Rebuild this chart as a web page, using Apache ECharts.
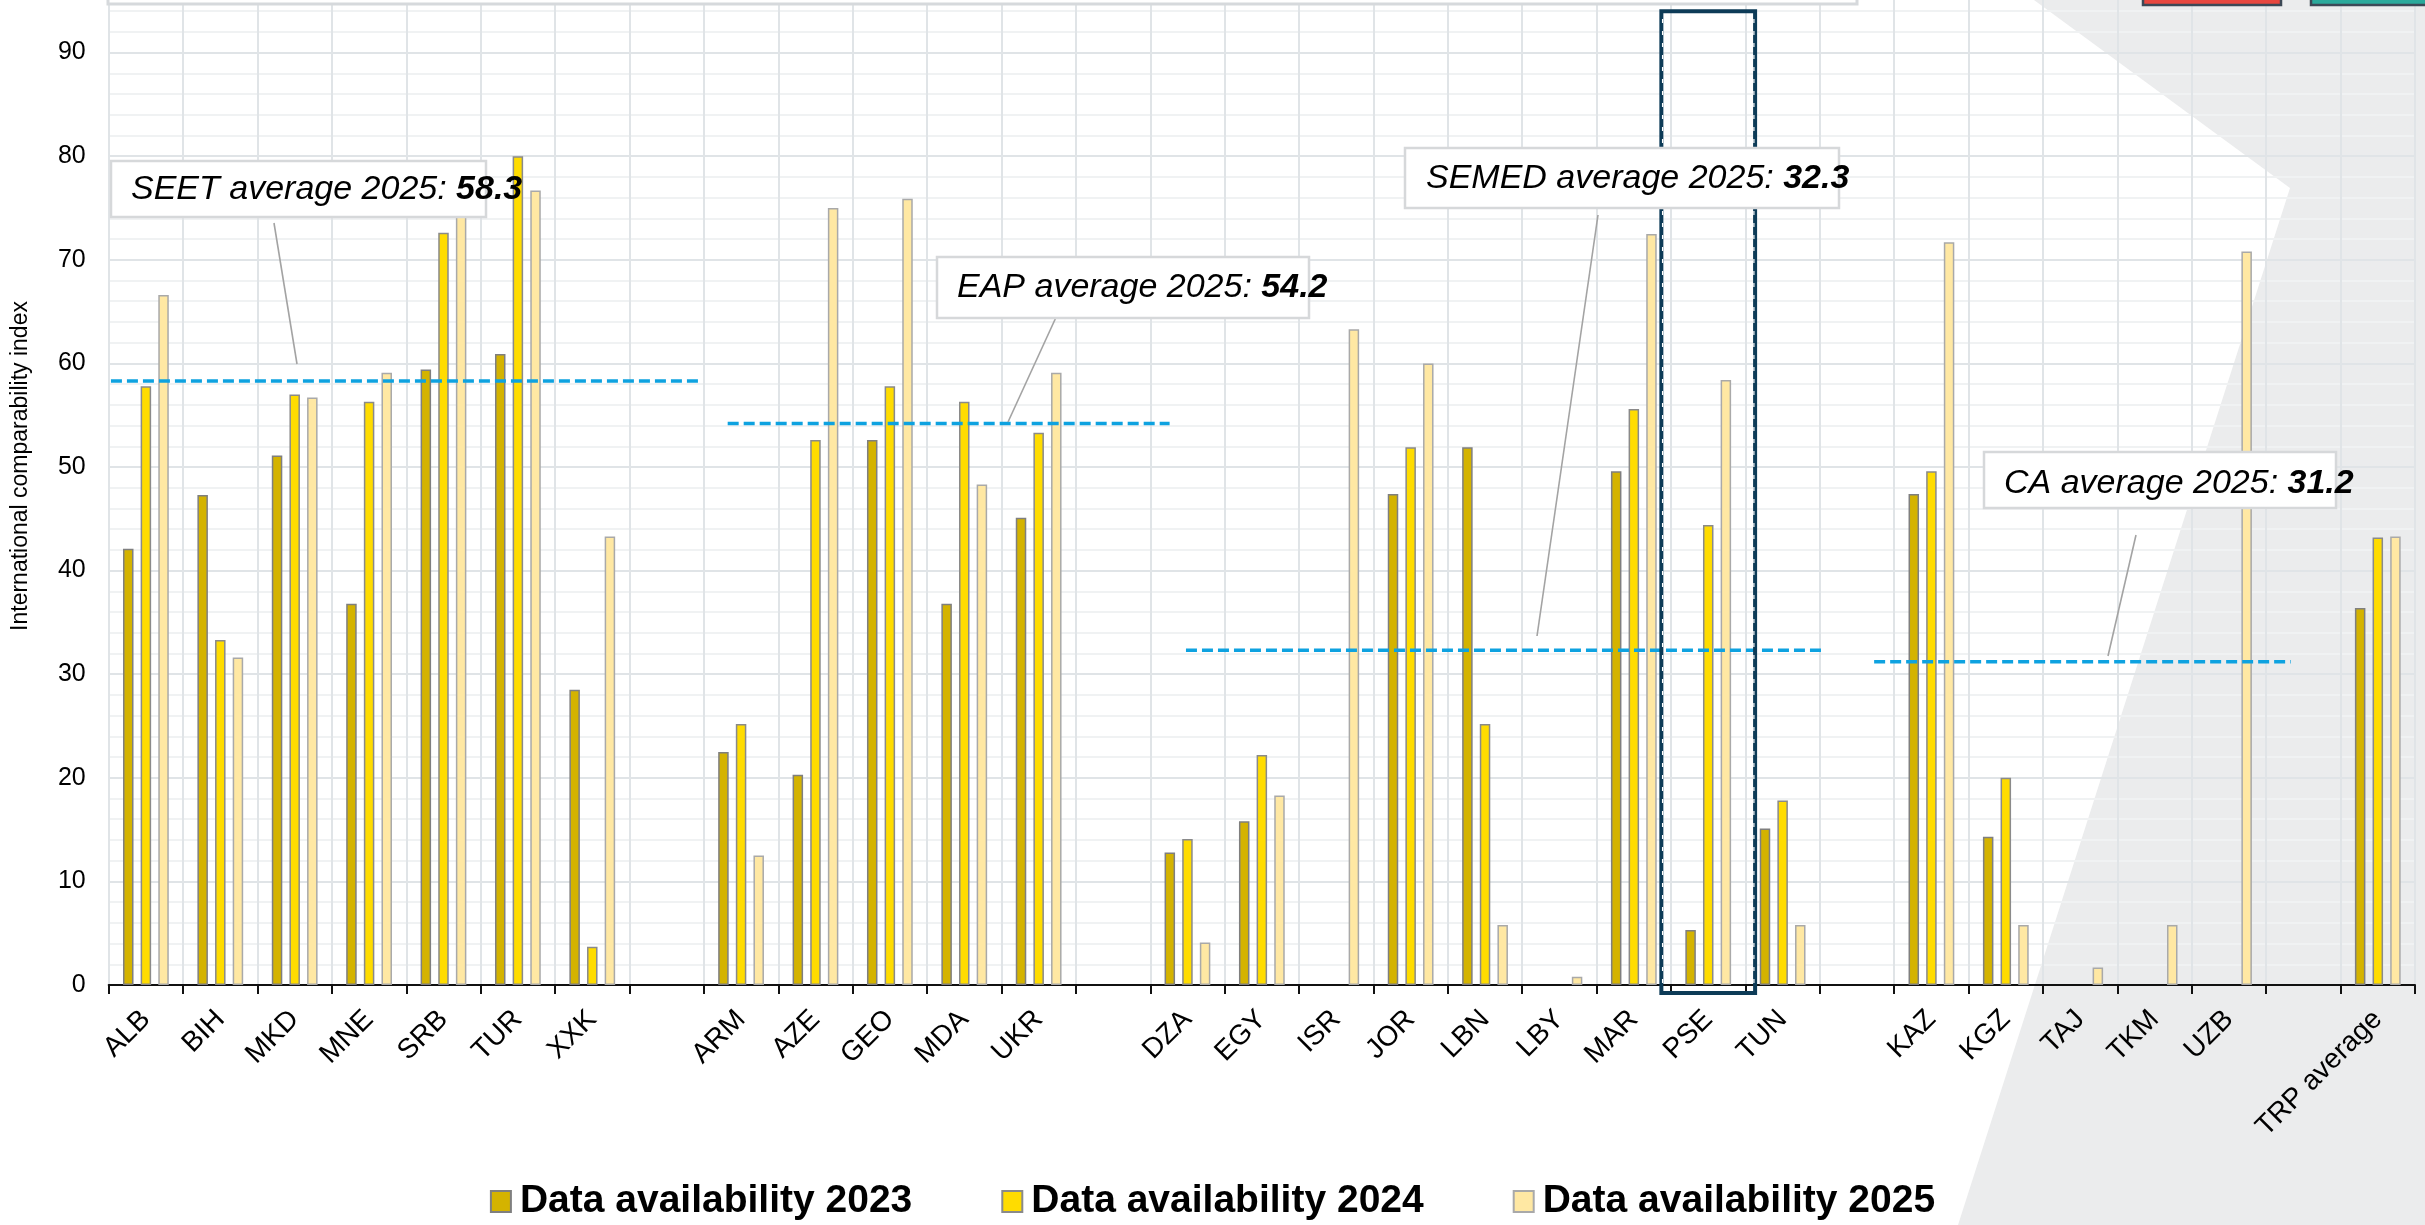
<!DOCTYPE html>
<html>
<head>
<meta charset="utf-8">
<script src="https://cdn.jsdelivr.net/npm/echarts@6/dist/echarts.min.js"></script>
<style>
  html, body { margin: 0; padding: 0; background: #ffffff; }
  #chart { width: 2425px; height: 1225px; }
</style>
</head>
<body>
<div id="chart"></div>
<script>
// Economies grouped by region; blank entries separate the regional groups.
const categories = [
  'ALB', 'BIH', 'MKD', 'MNE', 'SRB', 'TUR', 'XXK', ' ',
  'ARM', 'AZE', 'GEO', 'MDA', 'UKR', '  ',
  'DZA', 'EGY', 'ISR', 'JOR', 'LBN', 'LBY', 'MAR', 'PSE', 'TUN', '   ',
  'KAZ', 'KGZ', 'TAJ', 'TKM', 'UZB', '    ',
  'TRP average'
];

// International comparability index by data-availability year (null = no data).
const avail2023 = [
  42.1, 47.3, 51.1, 36.8, 59.4, 60.9, 28.5, null,
  22.5, 20.3, 52.6, 36.8, 45.1, null,
  12.8, 15.8, null, 47.4, 51.9, null, 49.6, 5.3, 15.1, null,
  47.4, 14.3, null, null, null, null,
  36.4
];
const avail2024 = [
  57.8, 33.3, 57.0, 56.3, 72.6, 80.0, 3.7, null,
  25.2, 52.6, 57.8, 56.3, 53.3, null,
  14.1, 22.2, null, 51.9, 25.2, null, 55.6, 44.4, 17.8, null,
  49.6, 20.0, null, null, null, null,
  43.2
];
const avail2025 = [
  66.6, 31.6, 56.7, 59.1, 74.5, 76.7, 43.3, null,
  12.5, 75.0, 75.9, 48.3, 59.1, null,
  4.1, 18.3, 63.3, 60.0, 5.8, 0.8, 72.5, 58.4, 5.8, null,
  71.7, 5.8, 1.7, 5.8, 70.8, null,
  43.3
];

const seriesNames = ['Data availability 2023', 'Data availability 2024', 'Data availability 2025'];

// Regional 2025 averages
const regionNames = ['SEET', 'EAP', 'SEMED', 'CA'];
const regionAverages2025 = [58.3, 54.2, 32.3, 31.2];

const yTicks = [0, 10, 20, 30, 40, 50, 60, 70, 80, 90];
const highlighted = 'PSE';

// ---- layout & styling ----
const FONT = '"Liberation Sans", Arial, Helvetica, sans-serif';
const BAR_STYLES = [
  { color: '#d4b300', borderColor: '#7f7f7f' },
  { color: '#ffdc00', borderColor: '#8a8a8a' },
  { color: '#ffe8a3', borderColor: '#a9a9a9' }
];
// Horizontal extent of each regional average line, in category units.
const regionSpans = [[0.03, 7.93], [8.32, 14.26], [14.48, 23.06], [23.73, 29.33]];
// Callout boxes (pixels): box rect, text anchor, leader line.
const callouts = [
  { box: [111, 161, 375, 56],  text: [131, 190],  lead: [[274, 223], [297, 364]] },
  { box: [937, 257, 372, 61],  text: [957, 288],  lead: [[1058, 313], [1008, 422]] },
  { box: [1405, 148, 434, 60], text: [1426, 179], lead: [[1598, 215], [1537, 636]] },
  { box: [1984, 452, 352, 56], text: [2004, 484], lead: [[2136, 535], [2108, 656]] }
];

const chart = echarts.init(document.getElementById('chart'), null, { renderer: 'canvas', width: 2425, height: 1225 });

const barSeries = [avail2023, avail2024, avail2025].map((vals, i) => ({
  name: seriesNames[i],
  type: 'bar',
  xAxisIndex: 0,
  yAxisIndex: 0,
  data: vals,
  barWidth: 10.5,
  barGap: '68%',
  itemStyle: { color: BAR_STYLES[i].color, borderColor: BAR_STYLES[i].borderColor, borderWidth: 1.5 },
  emphasis: { disabled: true },
  z: 2
}));

const avgSeries = regionAverages2025.map((v, i) => ({
  name: regionNames[i] + ' average',
  type: 'line',
  xAxisIndex: 1,
  yAxisIndex: 0,
  data: [[regionSpans[i][0], v], [regionSpans[i][1], v]],
  symbol: 'none',
  silent: true,
  lineStyle: { color: '#0ea2e0', width: 3.5, type: [11, 5] },
  z: 5
}));

const calloutGraphics = [];
callouts.forEach((c, i) => {
  calloutGraphics.push({
    id: 'lead' + i, type: 'line', z: 8, silent: true,
    shape: { x1: c.lead[0][0], y1: c.lead[0][1], x2: c.lead[1][0], y2: c.lead[1][1] },
    style: { stroke: '#a3a3a3', lineWidth: 1.6 }
  });
  calloutGraphics.push({
    id: 'box' + i, type: 'rect', z: 9, silent: true,
    shape: { x: c.box[0], y: c.box[1], width: c.box[2], height: c.box[3] },
    style: { fill: '#ffffff', stroke: '#d6d8da', lineWidth: 2.5 }
  });
  calloutGraphics.push({
    id: 'label' + i, type: 'text', z: 10, silent: true,
    x: c.text[0], y: c.text[1],
    style: {
      text: '{n|' + regionNames[i] + ' average 2025: }{v|' + regionAverages2025[i].toFixed(1) + '}',
      align: 'left', verticalAlign: 'middle',
      rich: {
        n: { fontFamily: FONT, fontSize: 34, fontStyle: 'italic', fill: '#000', color: '#000' },
        v: { fontFamily: FONT, fontSize: 34, fontStyle: 'italic', fontWeight: 'bold', fill: '#000', color: '#000' }
      }
    }
  });
});

chart.setOption({
  animation: false,
  backgroundColor: '#ffffff',
  textStyle: { fontFamily: FONT },
  grid: { left: 108.7, right: 10, top: -51, bottom: 240, containLabel: false, outerBoundsMode: 'none' },
  legend: {
    data: seriesNames.map((n, i) => ({
      name: n,
      itemStyle: { color: BAR_STYLES[i].color, borderColor: BAR_STYLES[i].borderColor, borderWidth: 2 }
    })),
    icon: 'rect',
    left: 'center',
    top: 1177,
    itemWidth: 20,
    itemHeight: 21,
    itemGap: 89,
    selectedMode: false,
    textStyle: { fontFamily: FONT, fontSize: 39, fontWeight: 'bold', color: '#000', padding: [0, 0, 0, 4] }
  },
  xAxis: [
    {
      type: 'category',
      data: categories,
      position: 'bottom',
      boundaryGap: true,
      axisLine: { show: true, onZero: true, lineStyle: { color: '#111', width: 2 } },
      axisTick: { show: true, interval: 0, length: 9, lineStyle: { color: '#111', width: 2 } },
      axisLabel: { interval: 0, rotate: 45, margin: 30, fontSize: 28, color: '#000', fontFamily: FONT },
      splitLine: { show: true, interval: 0, lineStyle: { color: '#e0e4e7', width: 2 } }
    },
    {
      // Hidden continuous axis over the same plot: places the regional average
      // segments and draws the upper half of the boundary ticks.
      type: 'value',
      position: 'top',
      min: 0,
      max: categories.length,
      interval: 1,
      axisLine: { show: false, onZero: true },
      axisTick: { show: true, length: 8, lineStyle: { color: '#111', width: 2 } },
      axisLabel: { show: false },
      splitLine: { show: false }
    }
  ],
  yAxis: {
    type: 'value',
    min: yTicks[0],
    max: 100,
    interval: 10,
    axisLine: { show: false },
    axisTick: { show: false },
    axisLabel: { fontSize: 25, color: '#000', margin: 23, fontFamily: FONT },
    splitLine: { show: true, lineStyle: { color: '#e0e4e7', width: 2 } },
    minorTick: { show: false, splitNumber: 5 },
    minorSplitLine: { show: true, lineStyle: { color: '#f0f2f3', width: 2 } }
  },
  series: barSeries.concat(avgSeries),
  graphic: [
    // shaded backdrop on the right
    {
      id: 'backdrop', type: 'polygon', z: -10, silent: true,
      shape: { points: [[2034, 0], [2290, 188], [1958, 1225], [2425, 1225], [2425, 0]] },
      style: { fill: '#ebeced' }
    },
    // header panel edge
    {
      id: 'header', type: 'rect', z: 6, silent: true,
      shape: { x: 108, y: -60, width: 1749, height: 64 },
      style: { fill: '#ffffff', stroke: '#d6d9dc', lineWidth: 3 }
    },
    // header buttons
    {
      id: 'btnRed', type: 'rect', z: 6, silent: true,
      shape: { x: 2143, y: -40, width: 138, height: 45 },
      style: { fill: '#e8473f', stroke: '#3c4856', lineWidth: 2.5 }
    },
    {
      id: 'btnTeal', type: 'rect', z: 6, silent: true,
      shape: { x: 2311, y: -40, width: 140, height: 45 },
      style: { fill: '#2aa99b', stroke: '#3c4856', lineWidth: 2.5 }
    },
    // y axis title
    {
      id: 'yTitle', type: 'text', z: 6, silent: true,
      x: 21, y: 466, rotation: Math.PI / 2,
      style: { text: 'International comparability index', font: '23px ' + FONT, fill: '#000', align: 'center', verticalAlign: 'middle' }
    }
  ].concat(calloutGraphics)
});

// Frame around the highlighted economy, anchored to its category slot.
const hi = categories.indexOf(highlighted);
const pTopLeft = chart.convertToPixel({ xAxisIndex: 1, yAxisIndex: 0 }, [hi - 0.13, 94]);
const pBottomRight = chart.convertToPixel({ xAxisIndex: 1, yAxisIndex: 0 }, [hi + 1 + 0.13, 0]);
const fx = pTopLeft[0], fy = pTopLeft[1], fw = pBottomRight[0] - pTopLeft[0], fh = pBottomRight[1] + 8 - pTopLeft[1];
chart.setOption({
  graphic: [
    {
      id: 'frame', type: 'rect', z: 7, silent: true,
      shape: { x: fx, y: fy, width: fw, height: fh },
      style: { fill: 'none', stroke: '#0d3b57', lineWidth: 4 }
    },
    {
      id: 'frameDashL', type: 'polyline', z: 7, silent: true,
      shape: { points: [[fx + 1.2, fh + fy - 10], [fx + 1.2, fy + 2]] },
      style: { stroke: '#ffffff', lineWidth: 1.2, lineDash: [4, 8], fill: 'none' }
    },
    {
      id: 'frameDashR', type: 'polyline', z: 7, silent: true,
      shape: { points: [[fx + fw - 1.2, fh + fy - 10], [fx + fw - 1.2, fy + 2]] },
      style: { stroke: '#ffffff', lineWidth: 1.2, lineDash: [4, 8], fill: 'none' }
    }
  ]
});
</script>
</body>
</html>
